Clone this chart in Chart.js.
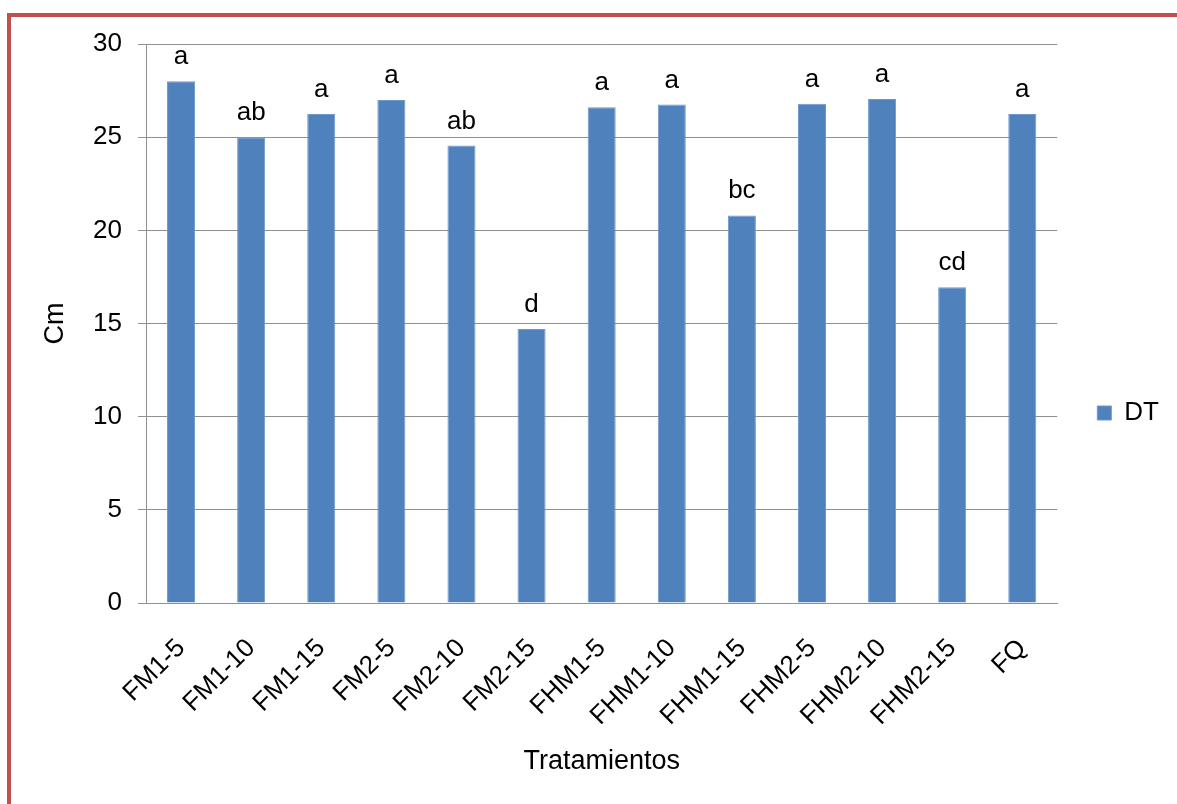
<!DOCTYPE html>
<html>
<head>
<meta charset="utf-8">
<script src="https://cdn.jsdelivr.net/npm/chart.js@4.4.1/dist/chart.umd.min.js"></script>
<style>
  html, body { margin: 0; padding: 0; background: #fff; }
  #wrap { position: relative; width: 1177px; height: 804px; overflow: hidden; }
  #chart { position: absolute; left: 0; top: 0; }
  /* red frame of the original slide */
  #frame {
    position: absolute; left: 7px; top: 13px; right: -10px; bottom: -10px;
    border-left: 4px solid #C0504D; border-top: 4px solid #C0504D;
    pointer-events: none;
  }
</style>
</head>
<body>
<div id="wrap">
  <canvas id="chart" width="1177" height="804"></canvas>
  <div id="frame"></div>
</div>
<script>
// categories (treatments) and plant height values
const categories = ['FM1-5', 'FM1-10', 'FM1-15', 'FM2-5', 'FM2-10', 'FM2-15',
  'FHM1-5', 'FHM1-10', 'FHM1-15', 'FHM2-5', 'FHM2-10', 'FHM2-15', 'FQ'];
const dtValues = [28.0, 25.0, 26.25, 27.0, 24.55, 14.7, 26.6, 26.75, 20.8, 26.8, 27.05, 16.95, 26.25];
// significance letters shown above each bar
const letters = ['a', 'ab', 'a', 'a', 'ab', 'd', 'a', 'a', 'bc', 'a', 'a', 'cd', 'a'];
const yTicks = [0, 5, 10, 15, 20, 25, 30];

Chart.defaults.font.family = '"Liberation Sans", Arial, sans-serif';
Chart.defaults.color = '#000';

// draws the letters over the bars
const letterPlugin = {
  id: 'letters',
  afterDatasetsDraw(chart) {
    const ctx = chart.ctx;
    const meta = chart.getDatasetMeta(0);
    ctx.save();
    ctx.font = '26px "Liberation Sans", Arial, sans-serif';
    ctx.fillStyle = '#000';
    ctx.textAlign = 'center';
    ctx.textBaseline = 'alphabetic';
    meta.data.forEach((bar, i) => {
      ctx.fillText(letters[i], bar.x, bar.y - 17);
    });
    ctx.restore();
  }
};

const ctx = document.getElementById('chart').getContext('2d');
new Chart(ctx, {
  type: 'bar',
  data: {
    labels: categories,
    datasets: [{
      label: 'DT',
      data: dtValues,
      backgroundColor: '#4F81BD',
      borderColor: '#6F98CA',
      borderWidth: 1,
      categoryPercentage: 1.0,
      barPercentage: 0.4
    }]
  },
  options: {
    responsive: false,
    animation: false,
    layout: { padding: { top: 44, left: 35, right: 8, bottom: 22 } },
    scales: {
      x: {
        grid: { display: false, drawTicks: false },
        border: { display: true, color: '#909090', width: 1 },
        ticks: {
          autoSkip: false,
          minRotation: 45,
          maxRotation: 45,
          padding: 30,
          font: { size: 26 }
        },
        title: { display: true, text: 'Tratamientos', font: { size: 27 } },
        afterFit: (scale) => { scale.height = 179; }
      },
      y: {
        min: 0,
        max: 30,
        afterBuildTicks: (scale) => { scale.ticks = yTicks.map(v => ({ value: v })); },
        grid: { color: '#909090', tickLength: 8 },
        border: { display: true, color: '#909090' },
        ticks: { padding: 16, font: { size: 26 } },
        title: { display: true, text: 'Cm', font: { size: 27 } },
        afterFit: (scale) => { scale.width = 111; }
      }
    },
    plugins: {
      legend: {
        position: 'right',
        labels: { boxWidth: 14, boxHeight: 14, padding: 40, font: { size: 26 } }
      },
      tooltip: { enabled: false }
    }
  },
  plugins: [letterPlugin]
});
</script>
</body>
</html>
